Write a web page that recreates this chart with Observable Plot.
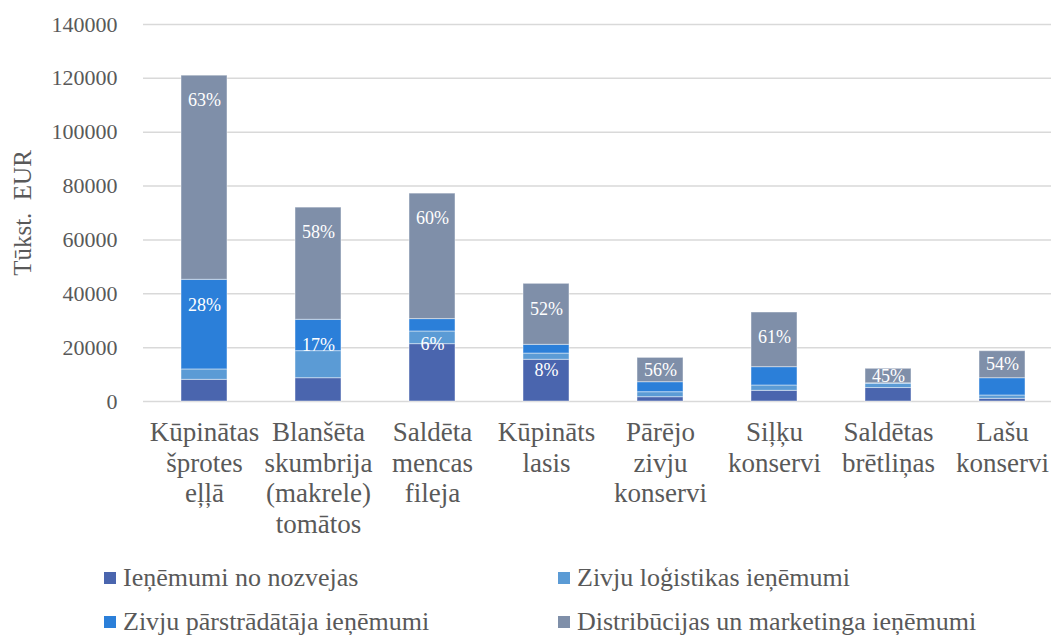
<!DOCTYPE html>
<html>
<head>
<meta charset="utf-8">
<script src="https://cdn.jsdelivr.net/npm/d3@7"></script>
<script src="https://cdn.jsdelivr.net/npm/@observablehq/plot@0.6"></script>
<style>
  html, body { margin: 0; padding: 0; background: #fff; overflow: hidden; }
  #wrap { position: relative; width: 1051px; height: 635px; font-family: "Liberation Serif", Tinos, "Times New Roman", "DejaVu Serif", serif; }
  #chart svg { display: block; }
  .leg { position: absolute; display: flex; align-items: center; color: #595959; font-size: 26px; white-space: nowrap; }
  .leg .sw { width: 12px; height: 12px; margin-right: 7px; flex: none; }
</style>
</head>
<body>
<div id="wrap">
  <div id="chart"></div>
  <div id="legend"></div>
</div>
<script>
const categories = [
  "Kūpinātas\nšprotes\neļļā",
  "Blanšēta\nskumbrija\n(makrele)\ntomātos",
  "Saldēta\nmencas\nfileja",
  "Kūpināts\nlasis",
  "Pārējo\nzivju\nkonservi",
  "Siļķu\nkonservi",
  "Saldētas\nbrētliņas",
  "Lašu\nkonservi"
];
const series = [
  "Ieņēmumi no nozvejas",
  "Zivju loģistikas ieņēmumi",
  "Zivju pārstrādātāja ieņēmumi",
  "Distribūcijas un marketinga ieņēmumi"
];
const colors = ["#4a65ae", "#5b9bd5", "#2b7fd9", "#7f8fa9"];

const catchRev      = [8050, 8650, 21300, 15500, 1600, 3970, 5000, 1000];
const logisticsRev  = [3850, 10050, 4700, 2300, 1850, 1970, 1550, 1230];
const processingRev = [33300, 11650, 4600, 3250, 3720, 6810, 200, 6420];
const distribRev    = [75800, 41650, 46600, 22650, 9030, 20300, 5400, 10030];

const distribLabels    = ["63%", "58%", "60%", "52%", "56%", "61%", "45%", "54%"];
const processingLabels = ["28%", "17%", "6%", "8%", null, null, null, null];

const yTicks = [0, 20000, 40000, 60000, 80000, 100000, 120000, 140000];

const FONT = "'Liberation Serif', Tinos, 'Times New Roman', 'DejaVu Serif', serif";

// Build table
const seriesValues = [catchRev, logisticsRev, processingRev, distribRev];
const rows = [];
categories.forEach((c, i) => {
  series.forEach((s, j) => rows.push({cat: c, series: s, value: seriesValues[j][i]}));
});

// label placement: inside end of segment (offset of ~25px expressed in data units), centered if segment small
const yMax = 140000, plotH = 377;
const off = 25 * yMax / plotH;
const labels = [];
categories.forEach((c, i) => {
  const procTop = catchRev[i] + logisticsRev[i] + processingRev[i];
  const total = procTop + distribRev[i];
  labels.push({cat: c, y: total - Math.min(off, distribRev[i] / 2), text: distribLabels[i]});
  if (processingLabels[i]) labels.push({cat: c, y: procTop - off, text: processingLabels[i]});
});

const chart = Plot.plot({
  width: 1051,
  height: 550,
  marginTop: 24,
  marginBottom: 149,
  marginLeft: 143,
  marginRight: 0,
  style: {fontFamily: FONT, color: "#595959", background: "#fff"},
  x: {domain: categories, range: [143, 1062], paddingInner: 0.6, paddingOuter: 0.3, axis: null},
  y: {domain: [0, yMax], axis: null},
  color: {domain: series, range: colors},
  marks: [
    Plot.ruleY(yTicks, {stroke: "#d9d9d9", strokeWidth: 1.5}),
    Plot.barY(rows, {x: "cat", y: "value", fill: "series", stroke: "#ffffff", strokeOpacity: 0.45, strokeWidth: 1}),
    Plot.axisY({ticks: yTicks, tickSize: 0, tickPadding: 26, fontSize: 22, fontFamily: FONT, tickFormat: d => String(d), label: null}),
    Plot.text(["Tūkst.  EUR"], {frameAnchor: "left", textAnchor: "middle", dx: -121, rotate: -90, fontSize: 25, fontFamily: FONT, fill: "#595959"}),
    Plot.text(categories, {x: d => d, text: d => d, frameAnchor: "bottom", lineAnchor: "top", dy: 18, fontSize: 27, lineHeight: 1.13, fontFamily: FONT, fill: "#595959"}),
    Plot.text(labels, {x: "cat", y: "y", text: "text", fill: "#ffffff", fontSize: 18, fontFamily: FONT})
  ]
});
document.getElementById("chart").appendChild(chart);

// Legend (HTML, below the SVG)
const legPos = [
  {left: 104, top: 578}, {left: 558, top: 578},
  {left: 104, top: 622}, {left: 558, top: 622}
];
const legend = document.getElementById("legend");
series.forEach((s, j) => {
  const d = document.createElement("div");
  d.className = "leg";
  d.style.left = legPos[j].left + "px";
  d.style.top = (legPos[j].top - 16) + "px";
  d.style.height = "32px";
  const sw = document.createElement("span");
  sw.className = "sw";
  sw.style.background = colors[j];
  const t = document.createElement("span");
  t.textContent = s;
  d.appendChild(sw);
  d.appendChild(t);
  legend.appendChild(d);
});
</script>
</body>
</html>
